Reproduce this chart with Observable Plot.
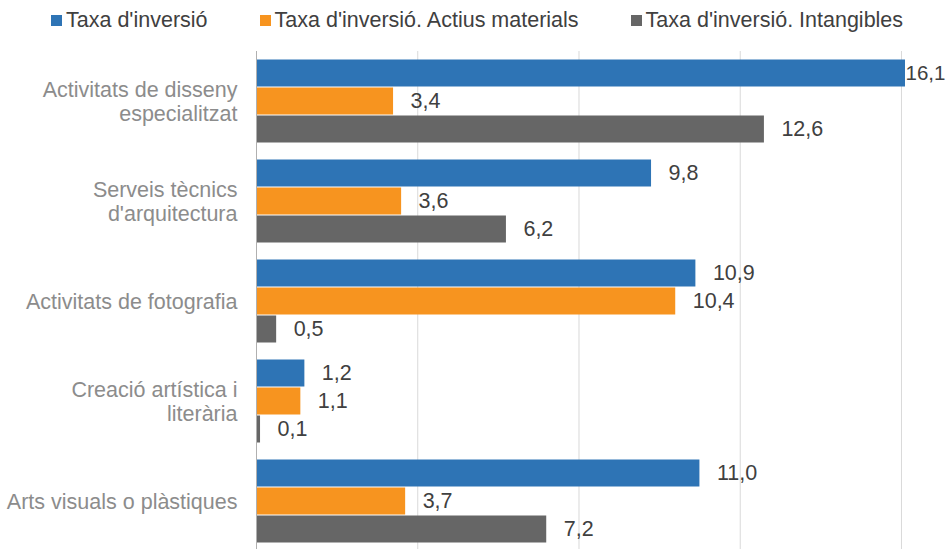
<!DOCTYPE html>
<html>
<head>
<meta charset="utf-8">
<script src="https://cdn.jsdelivr.net/npm/d3@7"></script>
<script src="https://cdn.jsdelivr.net/npm/@observablehq/plot@0.6"></script>
<style>
  html, body { margin: 0; padding: 0; background: #fff; overflow: hidden; }
  body { width: 946px; height: 549px; font-family: "Liberation Sans", Arial, sans-serif; }
  #legend { height: 40px; display: flex; align-items: center; padding-left: 51px; gap: 52px; font-size: 21.5px; color: #404040; }
  #legend .item { display: flex; align-items: center; white-space: nowrap; }
  #legend .sw { width: 11px; height: 11px; margin-right: 4px; }
</style>
</head>
<body>
<div id="legend"></div>
<div id="chart"></div>
<script>
const categories = [
  "Activitats de disseny especialitzat",
  "Serveis tècnics d'arquitectura",
  "Activitats de fotografia",
  "Creació artística i literària",
  "Arts visuals o plàstiques"
];
const categoryLines = [
  "Activitats de disseny\nespecialitzat",
  "Serveis tècnics\nd'arquitectura",
  "Activitats de fotografia",
  "Creació artística i\nliterària",
  "Arts visuals o plàstiques"
];
const series = [
  "Taxa d'inversió",
  "Taxa d'inversió. Actius materials",
  "Taxa d'inversió. Intangibles"
];
const colors = ["#2E74B5", "#F7941F", "#666666"];
const taxaInversio = [16.1, 9.8, 10.9, 1.2, 11.0];
const taxaMaterials = [3.4, 3.6, 10.4, 1.1, 3.7];
const taxaIntangibles = [12.6, 6.2, 0.5, 0.1, 7.2];
const gridTicks = [4, 8, 12, 16];

const seriesValues = [taxaInversio, taxaMaterials, taxaIntangibles];
const data = [];
categories.forEach((c, i) => {
  series.forEach((s, j) => data.push({category: c, series: s, value: seriesValues[j][i]}));
});
const maxValue = d3.max(data, d => d.value);
const fmt = d => d3.format(".1f")(d.value).replace(".", ",");
const wrap = c => categoryLines[categories.indexOf(c)];

// legend
const legend = d3.select("#legend");
series.forEach((s, j) => {
  const it = legend.append("div").attr("class", "item");
  it.append("div").attr("class", "sw").style("background", colors[j]);
  it.append("span").text(s);
});

const chart = Plot.plot({
  width: 946,
  height: 511,
  marginTop: 11,
  marginBottom: 0,
  marginLeft: 256,
  marginRight: 41,
  style: {fontFamily: "Liberation Sans, Arial, sans-serif", fontSize: "21.5px", background: "white"},
  x: {domain: [0, maxValue], axis: null},
  y: {domain: series, axis: null, paddingInner: 0, paddingOuter: 0.244},
  fy: {domain: categories, padding: 0, axis: null},
  color: {domain: series, range: colors},
  marks: [
    Plot.gridX({ticks: gridTicks, stroke: "#d9d9d9", strokeOpacity: 1, strokeWidth: 1}),
    Plot.barX(data, {x: "value", y: "series", fy: "category", fill: "series", insetTop: 0.5, insetBottom: 0.5}),
    Plot.ruleX([0], {stroke: "#b0b0b0", strokeWidth: 1}),
    Plot.text(data.filter(d => d.value < maxValue), {x: "value", y: "series", fy: "category", text: fmt, textAnchor: "start", dx: 17, fill: "#404040", fontSize: 21.5}),
    Plot.text(data.filter(d => d.value === maxValue), {x: "value", y: "series", fy: "category", text: fmt, textAnchor: "start", dx: 0, fill: "#404040", fontSize: 20.5}),
    Plot.axisFy({anchor: "left", label: null, tickSize: 0, tickPadding: 19, tickFormat: wrap, fill: "#8c8c8c", fontSize: 21.5, lineHeight: 1.13})
  ]
});
document.getElementById("chart").appendChild(chart);

// center the lines of wrapped category labels within their block (right-aligned block)
chart.querySelectorAll("text").forEach(t => {
  const spans = t.querySelectorAll("tspan");
  if (spans.length > 1 && t.getAttribute("text-anchor") === "end") {
    let maxW = 0;
    spans.forEach(s => { maxW = Math.max(maxW, s.getComputedTextLength()); });
    t.setAttribute("text-anchor", "middle");
    spans.forEach(s => { s.setAttribute("text-anchor", "middle"); s.setAttribute("x", -maxW / 2 + (+s.getAttribute("x") || 0)); });
  }
});
</script>
</body>
</html>
